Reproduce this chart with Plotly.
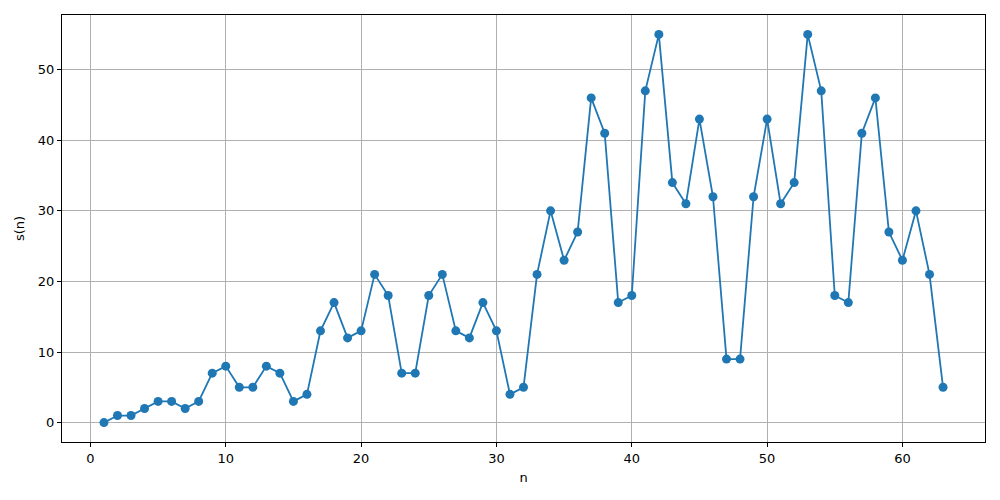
import plotly.graph_objects as go

n = list(range(1, 64))
s = [0, 1, 1, 2, 3, 3, 2, 3, 7, 8, 5, 5, 8, 7, 3, 4, 13, 17, 12, 13,
     21, 18, 7, 7, 18, 21, 13, 12, 17, 13, 4, 5, 21, 30, 23, 27, 46, 41, 17, 18,
     47, 55, 34, 31, 43, 32, 9, 9, 32, 43, 31, 34, 55, 47, 18, 17, 41, 46, 27, 23,
     30, 21, 5]

color = "#1f77b4"
fig = go.Figure(go.Scatter(
    x=n, y=s, mode="lines+markers",
    line=dict(color=color, width=1.8),
    marker=dict(color=color, size=9),
))

axis_common = dict(
    showgrid=True, gridcolor="#b0b0b0", gridwidth=0.8,
    showline=True, linecolor="black", linewidth=1, mirror=True,
    ticks="outside", ticklen=4, tickcolor="black", tickwidth=1,
    zeroline=False,
    tickfont=dict(family="DejaVu Sans", size=13, color="black"),
)
fig.update_xaxes(range=[-2.1, 66.1], tickvals=[0, 10, 20, 30, 40, 50, 60],
                 title=dict(text="n", font=dict(family="DejaVu Sans", size=13, color="black"), standoff=8),
                 **axis_common)
fig.update_yaxes(range=[-2.75, 57.75], tickvals=[0, 10, 20, 30, 40, 50],
                 title=dict(text="s(n)", font=dict(family="DejaVu Sans", size=13, color="black"), standoff=10),
                 **axis_common)
fig.update_layout(
    width=1000, height=500,
    margin=dict(l=54, r=23, t=7, b=66),
    plot_bgcolor="white", paper_bgcolor="white",
    showlegend=False,
)
fig.write_html("out.html")
